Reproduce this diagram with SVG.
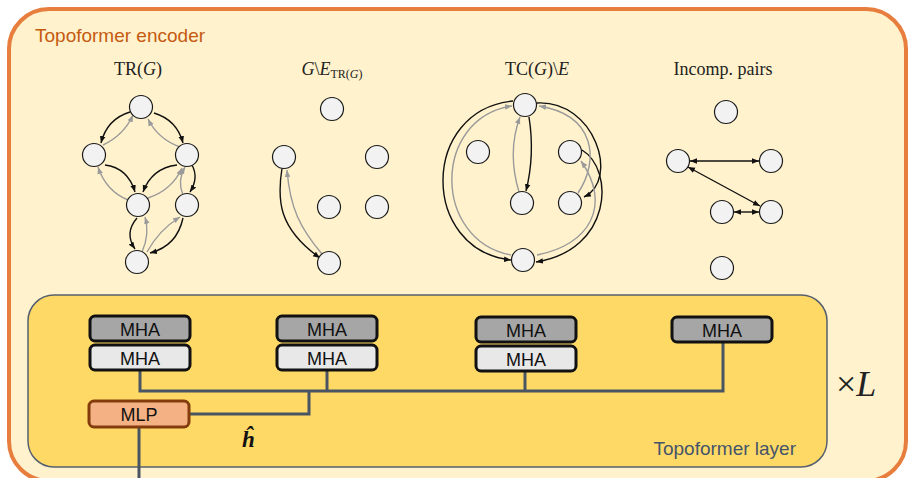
<svg xmlns="http://www.w3.org/2000/svg" width="916" height="478" viewBox="0 0 916 478">
<defs>
<style>
.title{font-family:"Liberation Serif",serif;font-size:18px;fill:#222;text-anchor:middle}
.it{font-style:italic}
.nd{fill:#F2F2F2;stroke:#1a1a1a;stroke-width:1.2}
.eb{fill:none;stroke:#111;stroke-width:1.4;marker-end:url(#ab)}
.eg{fill:none;stroke:#9a9a9a;stroke-width:1.4;marker-end:url(#ag)}
.ebi{fill:none;stroke:#111;stroke-width:1.4;marker-end:url(#ab);marker-start:url(#ab)}
.mha-d{fill:#A6A6A6;stroke:#111;stroke-width:3}
.mha-l{fill:#E8E8E8;stroke:#111;stroke-width:3}
.lbl{font-family:"Liberation Sans","Open Sans",sans-serif;font-size:18px;fill:#111;text-anchor:middle}
.conn{fill:none;stroke:#4A5563;stroke-width:3}
</style>
<marker id="ab" viewBox="0 0 10 10" refX="10" refY="5" markerWidth="7" markerHeight="7" markerUnits="userSpaceOnUse" orient="auto-start-reverse"><path d="M0,1 L10,5 L0,9 z" fill="#111"/></marker>
<marker id="ag" viewBox="0 0 10 10" refX="10" refY="5" markerWidth="7" markerHeight="7" markerUnits="userSpaceOnUse" orient="auto"><path d="M0,1 L10,5 L0,9 z" fill="#9a9a9a"/></marker>
</defs>

<g id="encoder">
<rect x="9" y="9" width="897" height="472" rx="40" fill="#FFF2CC" stroke="#E77E3E" stroke-width="4"/>
<text x="35" y="42" font-family="Liberation Sans,Open Sans,sans-serif" font-size="19" fill="#C55A11">Topoformer encoder</text>
</g>

<!-- Graph 1: TR(G) -->
<g id="g1">
<text class="title" x="138" y="75">TR(<tspan class="it">G</tspan>)</text>
<g id="g1-edges">
<path class="eb" d="M130,112 Q107,119 101,143"/>
<path class="eg" d="M103,145 Q124,135 133,115"/>
<path class="eb" d="M154,113 Q177,120 183,143"/>
<path class="eg" d="M180,147 Q158,139 148,119"/>
<path class="eb" d="M105,165 Q128,168 135,192"/>
<path class="eg" d="M128,200 Q106,191 98,167"/>
<path class="eb" d="M177,165 Q152,168 143,192"/>
<path class="eg" d="M148,198 Q172,190 182,168"/>
<path class="eb" d="M192,165 Q199,178 190,192"/>
<path class="eg" d="M183,195 Q177,181 185,167"/>
<path class="eb" d="M137,218 Q124,233 135,249"/>
<path class="eg" d="M142,252 Q150,234 145,217"/>
<path class="eb" d="M183,218 Q177,246 150,253"/>
<path class="eg" d="M147,252 Q159,230 180,217"/>
</g>
<circle class="nd" cx="141" cy="107" r="11.5"/>
<circle class="nd" cx="94" cy="155" r="11.5"/>
<circle class="nd" cx="187" cy="155" r="11.5"/>
<circle class="nd" cx="138" cy="205" r="11.5"/>
<circle class="nd" cx="187" cy="205" r="11.5"/>
<circle class="nd" cx="137" cy="262" r="11.5"/>
</g>

<!-- Graph 2: G \ E_TR(G) -->
<g id="g2">
<text class="title" x="332" y="75"><tspan class="it">G</tspan>\<tspan class="it">E</tspan><tspan font-size="12" dy="3">TR(<tspan class="it">G</tspan>)</tspan></text>
<g id="g2-edges">
<path class="eb" d="M282,168 C277,200 278,228 320,258"/>
<path class="eg" d="M322,254 C300,228 290,208 287,170"/>
</g>
<circle class="nd" cx="332" cy="109" r="11.5"/>
<circle class="nd" cx="284" cy="157" r="11.5"/>
<circle class="nd" cx="377" cy="157" r="11.5"/>
<circle class="nd" cx="329" cy="207" r="11.5"/>
<circle class="nd" cx="377" cy="207" r="11.5"/>
<circle class="nd" cx="329" cy="263" r="11.5"/>
</g>

<!-- Graph 3: TC(G) \ E -->
<g id="g3">
<text class="title" x="537" y="75">TC(<tspan class="it">G</tspan>)\<tspan class="it">E</tspan></text>
<g id="g3-edges">
<path class="eb" d="M529,117 Q535,155 526,191"/>
<path class="eg" d="M519,192 Q507,152 520,117"/>
<path class="eb" d="M513,101 C420,110 420,250 511,260"/>
<path class="eg" d="M511,255 C432,240 432,118 512,106"/>
<path class="eb" d="M537,103 C595,100 620,180 584,197"/>
<path class="eb" d="M582,150 C615,170 612,250 536,262"/>
<path class="eg" d="M578,193 C600,160 595,115 539,106"/>
<path class="eg" d="M537,255 C590,245 612,205 581,161"/>
</g>
<circle class="nd" cx="525" cy="105" r="11.5"/>
<circle class="nd" cx="478" cy="152" r="11.5"/>
<circle class="nd" cx="570" cy="152" r="11.5"/>
<circle class="nd" cx="522" cy="203" r="11.5"/>
<circle class="nd" cx="570" cy="203" r="11.5"/>
<circle class="nd" cx="523" cy="260" r="11.5"/>
</g>

<!-- Graph 4: Incomp. pairs -->
<g id="g4">
<text class="title" x="723" y="75">Incomp. pairs</text>
<g id="g4-edges">
<path class="ebi" d="M690,161 L759,161"/>
<path class="ebi" d="M688,167 L760,206"/>
<path class="ebi" d="M734,212 L759,212"/>
</g>
<circle class="nd" cx="726" cy="112" r="11.5"/>
<circle class="nd" cx="678" cy="161" r="11.5"/>
<circle class="nd" cx="771" cy="161" r="11.5"/>
<circle class="nd" cx="722" cy="212" r="11.5"/>
<circle class="nd" cx="771" cy="212" r="11.5"/>
<circle class="nd" cx="722" cy="268" r="11.5"/>
</g>

<!-- Topoformer layer -->
<g id="layer">
<rect x="28" y="295" width="799" height="172" rx="26" fill="#FFD966" stroke="#56606E" stroke-width="1.5"/>
<text x="796" y="455" text-anchor="end" font-family="Liberation Sans,Open Sans,sans-serif" font-size="19" fill="#44546A">Topoformer layer</text>
</g>

<g id="connectors">
<path class="conn" d="M140,370 V391 H723 V342"/>
<path class="conn" d="M327,370 V391"/>
<path class="conn" d="M525,371 V391"/>
<path class="conn" d="M309,391 V414 H189"/>
<path class="conn" d="M139,427 V478"/>
</g>

<g id="mha1">
<rect class="mha-d" x="90" y="316" width="100" height="25" rx="5"/>
<text class="lbl" x="140" y="336">MHA</text>
<rect class="mha-l" x="90" y="345" width="100" height="25" rx="5"/>
<text class="lbl" x="140" y="365">MHA</text>
</g>
<g id="mha2">
<rect class="mha-d" x="277" y="316" width="100" height="25" rx="5"/>
<text class="lbl" x="327" y="336">MHA</text>
<rect class="mha-l" x="277" y="345" width="100" height="25" rx="5"/>
<text class="lbl" x="327" y="365">MHA</text>
</g>
<g id="mha3">
<rect class="mha-d" x="476" y="317" width="100" height="25" rx="5"/>
<text class="lbl" x="526" y="337">MHA</text>
<rect class="mha-l" x="476" y="346" width="100" height="25" rx="5"/>
<text class="lbl" x="526" y="366">MHA</text>
</g>
<g id="mha4">
<rect class="mha-d" x="672" y="317" width="100" height="25" rx="5"/>
<text class="lbl" x="722" y="337">MHA</text>
</g>
<g id="mlp">
<rect x="89" y="401" width="100" height="26" rx="5" fill="#F4B183" stroke="#843C0C" stroke-width="3"/>
<text class="lbl" x="139" y="421">MLP</text>
</g>

<g id="hhat">
<text x="242" y="447" font-family="Liberation Serif,serif" font-size="23" font-weight="bold" font-style="italic" fill="#111">ĥ</text>
</g>

<g id="timesL">
<text x="836" y="396" font-family="Liberation Serif,serif" font-size="36" fill="#222">×<tspan font-style="italic">L</tspan></text>
</g>
</svg>
